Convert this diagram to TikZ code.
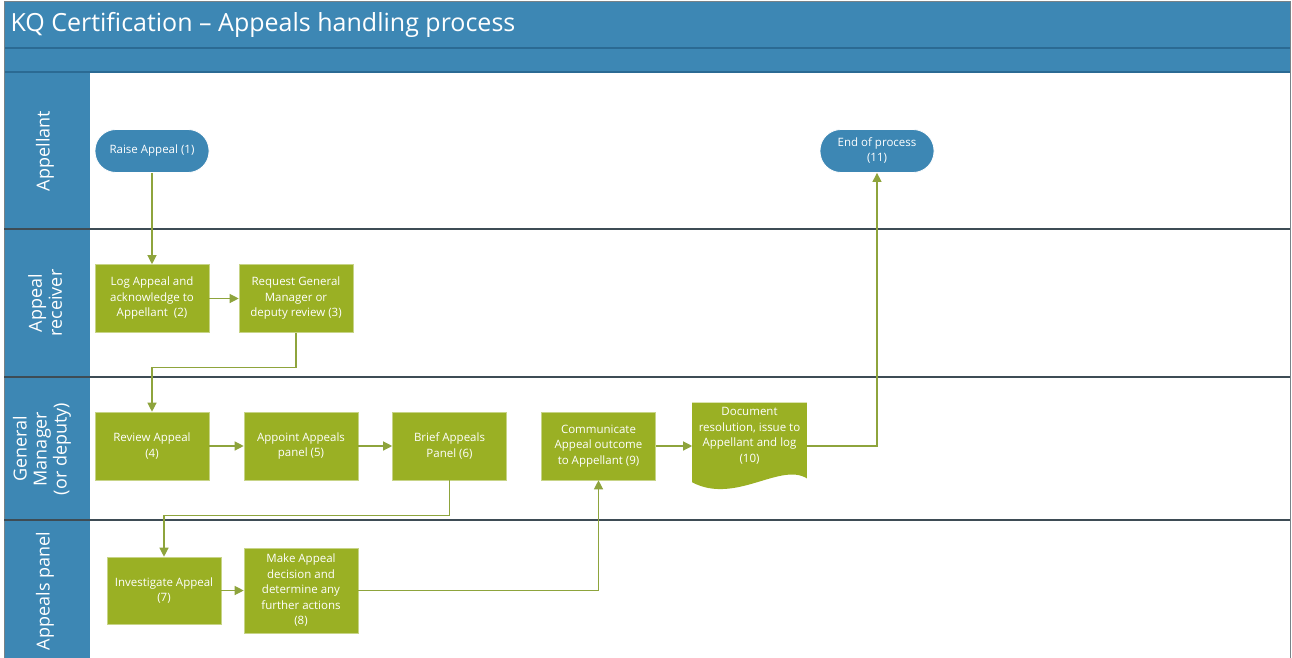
\documentclass[tikz,border=0pt]{standalone}
\usepackage{fontspec}
\setmainfont{Open Sans}
\usepackage{tikz}
\usetikzlibrary{
  arrows.meta,
  calc,
  positioning
}
\definecolor{barBlue}{HTML}{3D87B4}
\definecolor{barLine}{HTML}{2B6A93}
\definecolor{taskGreen}{HTML}{9AB024}
\definecolor{flowGreen}{HTML}{8EA43C}
\definecolor{sepGray}{HTML}{3E4C55}
\tikzset{
  pill/.style={
    fill=barBlue, draw=white, line width=0.8pt,
    rounded corners=21pt, minimum width=114pt, minimum height=43pt,
    text=white, font=\fontsize{11.5}{15}\selectfont, align=center, inner sep=1pt
  },
  task/.style={
    fill=taskGreen, draw=taskGreen!55!white, line width=0.6pt,
    minimum width=114pt, minimum height=68pt,
    text=white, font=\fontsize{11.5}{15.5}\selectfont, align=center, inner sep=1pt
  },
  flow/.style={-{Triangle[length=9pt,width=9pt]}, draw=flowGreen, line width=1.2pt},
  lanelabel/.style={rotate=90, text=white, font=\fontsize{18}{20}\selectfont, align=center},
  sep/.style={draw=sepGray, line width=1.2pt},
}

\begin{document}
\begin{tikzpicture}[x=1pt, y=-1pt]

\useasboundingbox (0,0) rectangle (1292,658);

% frame and header bands
\fill[white] (4,2) rectangle (1290,658);
\fill[barBlue] (4,2) rectangle (1290,72);
\fill[barBlue] (4,72) rectangle (90,658);
\draw[barLine, line width=1.5pt] (4,48) -- (1290,48);
\draw[barLine, line width=1.5pt] (4,72) -- (1290,72);
\draw[sepGray!70, line width=1pt] (4,2) rectangle (1290,660);

% lane separators
\foreach \Y in {229, 377, 520}{
  \draw[sep] (4,\Y) -- (1290,\Y);
}

\node[anchor=west, text=white, font=\fontsize{25}{30}\selectfont] (title) at (7,25)
  {KQ Certification – Appeals handling process};

% lane labels
\node[lanelabel] (lblAppellant) at (45,151) {Appellant};
\node[lanelabel] (lblReceiver) at (45,303) {Appeal\\receiver};
\node[lanelabel] (lblManager) at (42,449) {General\\Manager\\(or deputy)};
\node[lanelabel] (lblPanel) at (45,591) {Appeals panel};

% steps
\node[pill] (raise) at (152,151) {Raise Appeal (1)};
\node[pill] (endproc) at (877,151) {End of process\\(11)};

\node[task] (logapp) at (152,298.5) {Log Appeal and\\acknowledge to\\Appellant\ \ (2)};
\node[task] (request) at (296,298.5) {Request General\\Manager or\\deputy review (3)};

\node[task] (review) at (152,446) {Review Appeal\\(4)};
\node[task] (appoint) at (301,446) {Appoint Appeals\\panel (5)};
\node[task] (brief) at (449.5,446) {Brief Appeals\\Panel (6)};
\node[task] (communicate) at (598.5,446) {Communicate\\Appeal outcome\\to Appellant (9)};

% document shape (10)
\node[task, fill=none, draw=none, minimum height=75pt] (document) at (749.5,440.5) {};
\fill[taskGreen] (document.north west) -- (document.north east) -- (document.south east)
  .. controls (780,462) and (735,505) .. ($(document.south west)+(0,4)$) -- cycle;
\node[text=white, font=\fontsize{11.5}{15.5}\selectfont, align=center] (doctext) at (749.5,436)
  {Document\\resolution, issue to\\Appellant and log\\(10)};

\node[task, minimum height=67pt] (investigate) at (164,590.5) {Investigate Appeal\\(7)};
\node[task, minimum height=85pt] (decide) at (301,590.5) {Make Appeal\\decision and\\determine any\\further actions\\(8)};

% connectors
\draw[flow] (raise) -- (logapp);
\draw[flow] (logapp) -- (request);
\draw[flow] (request.south) -- ++(0,35) -| (review.north);
\draw[flow] (review) -- (appoint);
\draw[flow] (appoint) -- (brief);
\draw[flow] (brief.south) -- ++(0,35) -| (investigate.north);
\draw[flow] (investigate) -- (decide);
\draw[flow] (decide.east) -| (communicate.south);
\draw[flow] (communicate.east) -- (communicate.east -| document.west);
\draw[flow] (communicate.east -| document.east) -| (endproc.south);

\end{tikzpicture}
\end{document}
